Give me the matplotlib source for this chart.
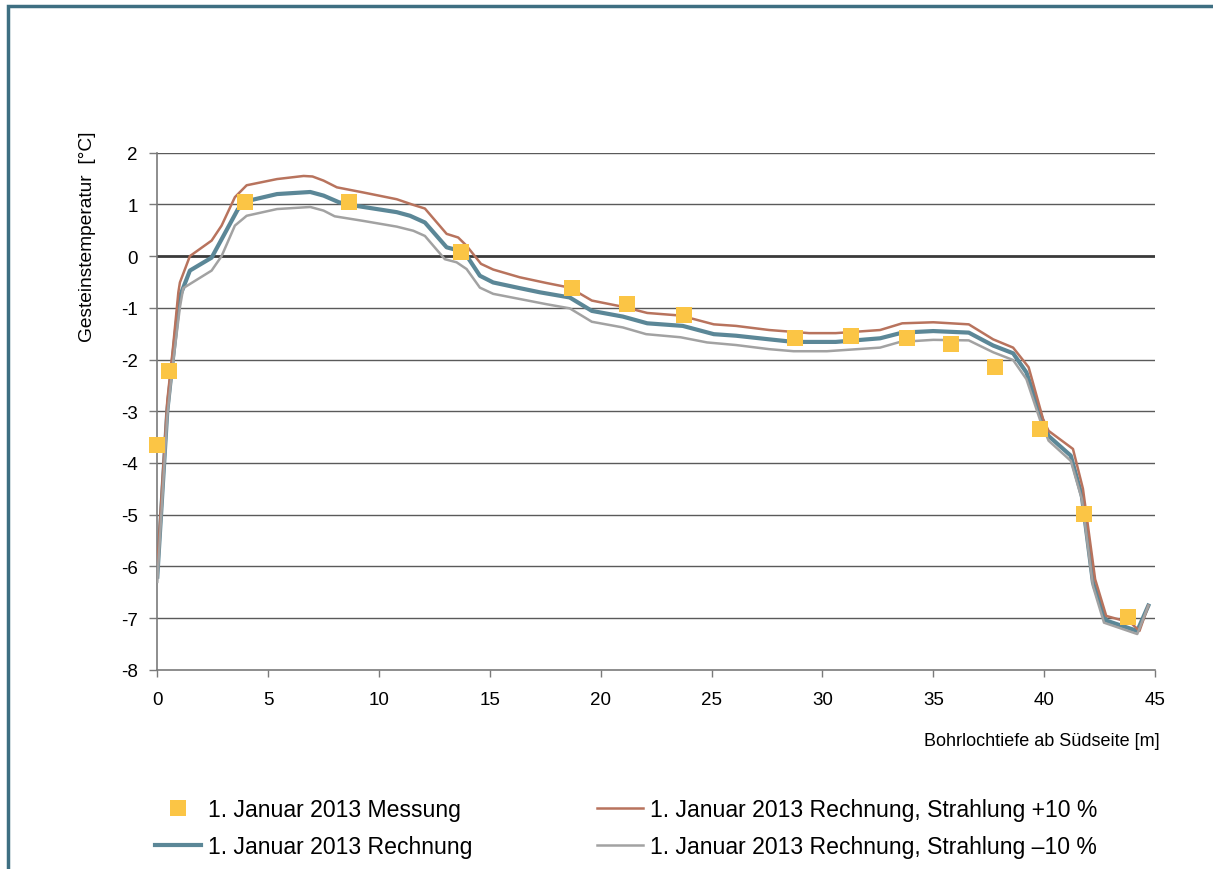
import matplotlib
matplotlib.use("Agg")
import matplotlib.pyplot as plt
from matplotlib.lines import Line2D
from matplotlib.patches import Rectangle
from matplotlib.ticker import MultipleLocator

plt.rcParams['font.family'] = ['Liberation Sans', 'DejaVu Sans']
plt.rcParams['axes.unicode_minus'] = False

# Measured rock temperature, 1 Jan 2013
mess_depth = [0.0, 0.53, 3.97, 8.65, 13.7, 18.7, 21.2, 23.75, 28.75, 31.3, 33.8, 35.8, 37.8, 39.8, 41.8, 43.8]
mess_temp = [-3.66, -2.22, 1.04, 1.04, 0.08, -0.62, -0.93, -1.14, -1.59, -1.55, -1.59, -1.70, -2.15, -3.35, -4.99, -6.98]

# Calculation
calc_depth = [0.0, 0.45, 0.7, 1.0, 1.47, 2.45, 3.64, 4.3, 5.4, 6.9, 7.5, 8.2, 9.0, 10.8, 11.4, 12.07,
              13.05, 13.4, 13.95, 14.55, 15.15, 16.35, 17.25, 18.6, 19.6, 21.0, 22.1, 23.7, 25.1, 26.1,
              27.6, 28.7, 30.6, 32.6, 33.6, 35.0, 36.6, 37.7, 38.6, 39.2, 39.9, 40.2, 41.2, 41.7, 42.2,
              42.8, 44.2, 44.7]
calc_temp = [-6.2, -3.0, -2.0, -0.8, -0.28, -0.03, 0.91, 1.09, 1.2, 1.24, 1.17, 1.04, 0.97, 0.85, 0.78, 0.65,
             0.17, 0.13, 0.01, -0.38, -0.51, -0.62, -0.70, -0.80, -1.06, -1.17, -1.30, -1.35, -1.51, -1.54,
             -1.61, -1.66, -1.66, -1.59, -1.48, -1.45, -1.48, -1.73, -1.88, -2.25, -3.15, -3.48, -3.86, -4.64, -6.31,
             -7.05, -7.25, -6.76]

# Calculation, radiation +10 %
plus_depth = [0.0, 0.45, 0.7, 0.95, 1.02, 1.47, 2.45, 2.9, 3.5, 4.03, 5.4, 6.6, 7.0, 7.5, 8.1, 9.3, 10.8,
              11.55, 12.07, 13.05, 13.57, 13.95, 14.6, 15.15, 16.35, 17.55, 18.6, 19.6, 21.0, 22.1, 23.6,
              25.1, 26.1, 27.6, 29.4, 30.6, 32.6, 33.6, 35.0, 36.6, 37.7, 38.6, 39.3, 39.95, 40.2, 41.3,
              41.75, 42.3, 42.8, 43.9, 44.3, 44.7]
plus_temp = [-6.0, -2.8, -1.8, -0.7, -0.51, 0.0, 0.3, 0.59, 1.14, 1.37, 1.49, 1.55, 1.54, 1.46, 1.33, 1.23, 1.1,
             0.99, 0.92, 0.43, 0.36, 0.2, -0.15, -0.26, -0.41, -0.52, -0.61, -0.86, -0.98, -1.10, -1.15,
             -1.32, -1.35, -1.43, -1.49, -1.49, -1.43, -1.30, -1.28, -1.32, -1.61, -1.77, -2.15, -3.15, -3.38, -3.73,
             -4.5, -6.25, -6.96, -7.09, -7.25, -6.76]

# Calculation, radiation -10 %
minus_depth = [0.0, 0.45, 0.7, 1.02, 1.17, 1.47, 2.45, 2.9, 3.5, 4.03, 5.4, 6.9, 7.5, 8.0, 9.3, 10.8, 11.55,
               12.07, 12.97, 13.5, 13.95, 14.55, 15.15, 16.35, 17.55, 18.6, 19.6, 21.0, 22.05, 23.6, 24.8,
               26.1, 27.6, 28.7, 30.2, 32.6, 33.5, 35.0, 36.6, 37.7, 38.6, 39.2, 39.8, 40.2, 41.2, 41.7,
               42.2, 42.7, 44.2, 44.7]
minus_temp = [-6.3, -3.1, -2.1, -0.99, -0.62, -0.54, -0.28, 0.0, 0.59, 0.78, 0.91, 0.95, 0.88, 0.77, 0.68, 0.57, 0.49,
              0.39, -0.06, -0.12, -0.25, -0.61, -0.73, -0.83, -0.93, -1.01, -1.27, -1.38, -1.51, -1.57, -1.67,
              -1.72, -1.80, -1.84, -1.84, -1.77, -1.66, -1.62, -1.63, -1.86, -2.01, -2.38, -3.15, -3.57, -3.96, -4.7,
              -6.38, -7.09, -7.31, -6.76]

labels = ["1. Januar 2013 Messung", "1. Januar 2013 Rechnung",
          "1. Januar 2013 Rechnung, Strahlung +10 %", "1. Januar 2013 Rechnung, Strahlung \u201310 %"]

C_MESS = '#FBC545'
C_CALC = '#5B8797'
C_PLUS = '#B8735D'
C_MINUS = '#A2A2A2'
C_GRID = '#5A5A5A'

W, H = 1213, 870
fig = plt.figure(figsize=(W / 100, H / 100), dpi=100)
ax = fig.add_axes([157.3 / W, 1 - 670.7 / H, (1155 - 157.3) / W, (670.7 - 153.7) / H])

# Outer frame (only top and left edges are visible)
fig.patches.append(Rectangle((8 / W, -0.1), 1.2, 1 - 7 / H + 0.1, transform=fig.transFigure,
                             fill=False, edgecolor='#3E6F82', linewidth=2.5, clip_on=False))

ax.set_xlim(0, 45)
ax.set_ylim(-8, 2)
ax.xaxis.set_major_locator(MultipleLocator(5))
ax.yaxis.set_major_locator(MultipleLocator(1))

# Horizontal grid, emphasized zero line
for v in range(-7, 3):
    if v == 0:
        continue
    ax.axhline(v, color=C_GRID, linewidth=1.0, zorder=1)
ax.axhline(0, color='#3A3A3A', linewidth=2.0, zorder=1)

for side in ['top', 'right']:
    ax.spines[side].set_visible(False)
for side in ['left', 'bottom']:
    ax.spines[side].set_color('#7A7A7A')
    ax.spines[side].set_linewidth(1.2)

ax.tick_params(axis='x', direction='out', length=5, width=1, color='#7A7A7A', pad=10, labelsize=13.5)
ax.tick_params(axis='y', direction='out', length=6, width=1, color='#7A7A7A', pad=8, labelsize=13.5)

ax.plot(calc_depth, calc_temp, color=C_CALC, linewidth=3.0, zorder=3, solid_joinstyle='round')
ax.plot(plus_depth, plus_temp, color=C_PLUS, linewidth=1.8, zorder=4)
ax.plot(minus_depth, minus_temp, color=C_MINUS, linewidth=1.8, zorder=4)
ax.plot(mess_depth, mess_temp, linestyle='none', marker='s', markersize=11.5,
        color=C_MESS, markeredgewidth=0, zorder=5, clip_on=False)

fig.text(87 / W, 1 - 237 / H, "Gesteinstemperatur  [\u00b0C]", rotation=90,
         ha='center', va='center', fontsize=13.8)
fig.text(1160 / W, 1 - 741 / H, "Bohrlochtiefe ab S\u00fcdseite [m]",
         ha='right', va='center', fontsize=13)

h_mess = Line2D([], [], linestyle='none', marker='s', markersize=11.5, color=C_MESS, markeredgewidth=0)
h_calc = Line2D([], [], color=C_CALC, linewidth=3.0)
h_plus = Line2D([], [], color=C_PLUS, linewidth=1.8)
h_minus = Line2D([], [], color=C_MINUS, linewidth=1.8)

leg_kw = dict(frameon=False, loc='upper left', fontsize=16.6, borderpad=0, borderaxespad=0,
              handlelength=2.0, handletextpad=0.3, labelspacing=0.6)
fig.legend([h_mess, h_calc], labels[:2], bbox_to_anchor=(155 / W, 1 - 799 / H), **leg_kw)
fig.legend([h_plus, h_minus], labels[2:], bbox_to_anchor=(597 / W, 1 - 799 / H), **leg_kw)

fig.savefig("out.png", dpi=100)
